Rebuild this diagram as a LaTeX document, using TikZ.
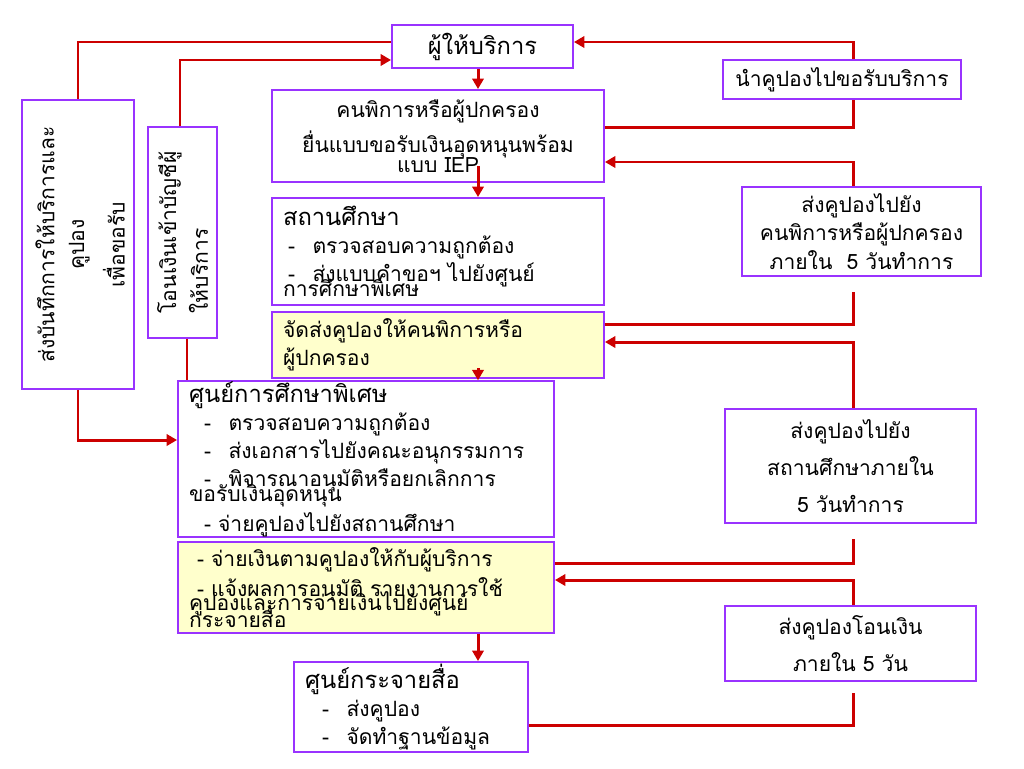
\documentclass[tikz,border=0pt]{standalone}
\usepackage{xcolor}
\usepackage{fontspec}
\setmainfont[Script=Thai]{Loma}
\usepackage{tikz}
\usetikzlibrary{arrows.meta}

\definecolor{boxpurple}{RGB}{153,51,255}
\definecolor{linkred}{RGB}{204,0,0}
\definecolor{noteyellow}{RGB}{255,255,204}
\newcommand{\headtext}[1]{{\fontsize{13.5}{16}\selectfont #1}}

\begin{document}
\begin{tikzpicture}[x=0.02cm,y=-0.02cm,font=\fontsize{12}{16}\selectfont]
            \tikzstyle{box}=[draw=boxpurple, line width=1.1pt, fill=white, inner ysep=0pt];
            \tikzstyle{cbox}=[box, align=center];
            \tikzstyle{lbox}=[box, align=left, inner xsep=0.22cm];
            \tikzstyle{wire}=[draw=linkred, line width=1.7pt];
            \tikzstyle{flow}=[wire, -{Triangle[length=6pt,width=6.5pt]}];

            % Fix the page to the size of the slide
            \useasboundingbox (0,0) rectangle (1024,768);

            % Middle column, from the provider down to the media centre
            \node[cbox, minimum width=3.62cm, minimum height=0.86cm] (prov) at (482.5,46.5) {\headtext{ผู้ให้บริการ}};
            \node[cbox, minimum width=6.64cm, minimum height=1.84cm] (dis) at (438,136)
                {คนพิการหรือผู้ปกครอง\\[4pt] ยื่นแบบขอรับเงินอุดหนุนพร้อม\\[-4.6pt] แบบ IEP};
            \node[lbox, text width=6.2cm, minimum height=2.14cm] (school) at (438,251.5)
                {\headtext{สถานศึกษา}\\ \hspace*{0.1cm}-\hspace{0.35cm}ตรวจสอบความถูกต้อง\\
                 \hspace*{0.1cm}-\hspace{0.35cm}ส่งแบบคำขอฯ ไปยังศูนย์\\[-7.5pt] การศึกษาพิเศษ\\[2pt]};
            \node[lbox, fill=noteyellow, text width=6.2cm, minimum height=1.32cm] (send) at (438,345)
                {จัดส่งคูปองให้คนพิการหรือ\\ ผู้ปกครอง};
            \node[lbox, text width=7.08cm, minimum height=2.96cm] (spec) at (366,459)
                {\headtext{ศูนย์การศึกษาพิเศษ}\\ \hspace*{0.3cm}-\hspace{0.35cm}ตรวจสอบความถูกต้อง\\
                 \hspace*{0.3cm}-\hspace{0.35cm}ส่งเอกสารไปยังคณะอนุกรรมการ\\
                 \hspace*{0.3cm}-\hspace{0.35cm}พิจารณาอนุมัติหรือยกเลิกการ\\[-7.5pt] ขอรับเงินอุดหนุน\\[1pt]
                 \hspace*{0.3cm}- จ่ายคูปองไปยังสถานศึกษา};
            \node[lbox, fill=noteyellow, text width=7.08cm, minimum height=1.82cm] (pay) at (366,587.5)
                {\hspace*{0.16cm}- จ่ายเงินตามคูปองให้กับผู้บริการ\\[1pt]
                 \hspace*{0.16cm}- แจ้งผลการอนุมัติ รายงานการใช้\\[-7.5pt]
                 คูปองและการจ่ายเงินไปยังศูนย์\\[-6.5pt] กระจายสื่อ\\[4pt]};
            \node[lbox, text width=4.24cm, minimum height=1.8cm] (media) at (411,707)
                {\headtext{ศูนย์กระจายสื่อ}\\ \hspace*{0.34cm}-\hspace{0.35cm}ส่งคูปอง\\
                 \hspace*{0.34cm}-\hspace{0.35cm}จัดทำฐานข้อมูล\\[4pt]};

            % Left column, upright boxes with turned text
            \node[box, minimum width=2.24cm, minimum height=5.78cm] (left1) at (78,244.5) {};
            \node[rotate=90, align=center] (left1txt) at (80,244.5)
                {ส่งบันทึกการให้บริการและ\\[1pt] คูปอง\\[7pt] เพื่อขอรับ};
            \node[box, minimum width=1.38cm, minimum height=4.22cm] (left2) at (182.5,232.5) {};
            \node[rotate=90, align=left] (left2txt) at (left2)
                {โอนเงินเข้าบัญชีผู้\\[2pt] ให้บริการ};

            % Right column, what is sent back and when
            \node[cbox, minimum width=4.76cm, minimum height=0.78cm] (right1) at (842,79.5) {นำคูปองไปขอรับบริการ};
            \node[cbox, minimum width=4.78cm, minimum height=1.78cm] (right2) at (861.5,231.5)
                {ส่งคูปองไปยัง\\ คนพิการหรือผู้ปกครอง\\ ภายใน\ \ 5 วันทำการ};
            \node[cbox, minimum width=5.02cm, minimum height=2.28cm] (right3) at (850.5,466)
                {ส่งคูปองไปยัง\\[5pt] สถานศึกษาภายใน\\[5pt] 5 วันทำการ};
            \node[cbox, minimum width=5.02cm, minimum height=1.5cm] (right4) at (850.5,643.5)
                {ส่งคูปองโอนเงิน\\[5pt] ภายใน 5 วัน};

            % Draw the red connectors
            \coordinate (mid) at (478,0);
            \coordinate (rx) at (853,0);
            \coordinate (iep) at (478,166);
            \coordinate (cpn) at (478,368);

            \draw[flow] (prov.south -| mid) -- (dis.north -| mid);
            \draw[flow] (iep) -- (school.north -| mid);
            \draw[flow] (cpn) -- (spec.north -| mid);
            \draw[flow] (pay.south -| mid) -- (media.north -| mid);

            \draw[wire] (left1.north) |- ([yshift=0.09cm]prov.west);
            \draw[flow] ([xshift=-0.05cm]left2.north) |- ([yshift=-0.27cm]prov.west);
            \draw[wire] ([xshift=0.09cm]left2.south) -- ([xshift=0.09cm]left2.south |- spec.north);
            \draw[flow] (left1.south) |- ([yshift=0.38cm]spec.west);

            \draw[flow] (right1.north -| rx) |- ([yshift=0.09cm]prov.east);
            \draw[wire] ([yshift=0.18cm]dis.east) -| (right1.south -| rx);
            \draw[flow] (right2.north -| rx) |- ([yshift=-0.52cm]dis.east);
            \draw[wire, shorten >=0.3cm] ([yshift=0.42cm]send.east) -| (right2.south -| rx);
            \draw[flow] (right3.north -| rx) |- ([yshift=0.06cm]send.east);
            \draw[wire, shorten >=0.3cm] ([yshift=0.49cm]pay.east) -| (right3.south -| rx);
            \draw[flow] (right4.north -| rx) |- ([yshift=0.15cm]pay.east);
            \draw[wire, shorten >=0.22cm] ([yshift=-0.36cm]media.east) -| (right4.south -| rx);
        \end{tikzpicture}
\end{document}
